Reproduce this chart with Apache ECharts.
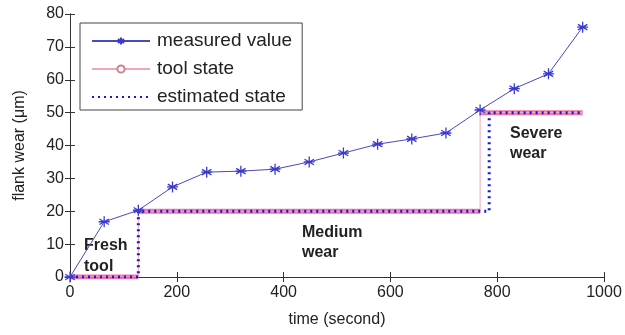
<!DOCTYPE html>
<html>
<head>
<meta charset="utf-8">
<script src="https://cdn.jsdelivr.net/npm/echarts@6/dist/echarts.min.js"></script>
<style>
  html, body { margin: 0; padding: 0; background: #fff; }
  #chart { width: 625px; height: 335px; }
</style>
</head>
<body>
<div id="chart"></div>
<script>
const timeTicks = [0, 200, 400, 600, 800, 1000];
const wearTicks = [0, 10, 20, 30, 40, 50, 60, 70, 80];

const measuredTime = [0, 64, 128, 192, 256, 320, 384, 448, 512, 576, 640, 704, 768, 832, 896, 960];
const measuredWear = [0, 16.8, 20.3, 27.4, 31.9, 32.2, 32.8, 35, 37.7, 40.4, 42, 43.8, 50.8, 57.3, 61.8, 76];

// step points of the states (time, wear)
const toolStateSteps = [[0, 0], [128, 0], [128, 20], [768, 20], [768, 50], [960, 50]];
const estimatedSteps = [[0, 0], [128, 0], [128, 20], [785, 20], [785, 50], [960, 50]];

const font = "'Liberation Sans', Arial, sans-serif";
const asterisk = "path://M5,0L5,10M0.7,2.5L9.3,7.5M0.7,7.5L9.3,2.5M0,5L10,5";

// thick band: only the flat parts of the tool state
const band = [];
toolStateSteps.forEach((p, i) => {
  if (i > 0 && p[0] === toolStateSteps[i - 1][0]) band.push([p[0], '-']);
  band.push(p);
});

const tickLabel = { fontFamily: font, fontSize: 16, color: '#222' };

const chart = echarts.init(document.getElementById('chart'));
chart.setOption({
  animation: false,
  grid: { left: 70, right: 21, top: 14, bottom: 58 },
  legend: {
    left: 80, top: 23, orient: 'vertical',
    backgroundColor: '#fff', borderColor: '#444', borderWidth: 1, borderRadius: 0,
    padding: [7, 10, 2, 11], itemGap: 6, itemWidth: 58, itemHeight: 9,
    textStyle: { fontFamily: font, fontSize: 19, lineHeight: 22, color: '#222', padding: [0, 0, 0, 2] },
    data: [
      { name: 'measured value' },
      { name: 'tool state' },
      { name: 'estimated state', itemStyle: { opacity: 0 } }
    ]
  },
  xAxis: [{
    type: 'value', min: 0, max: 1000, interval: 200,
    name: 'time (second)', nameLocation: 'middle', nameGap: 35,
    nameTextStyle: tickLabel,
    axisLine: { lineStyle: { color: '#333' } },
    axisTick: { inside: true, length: 5, lineStyle: { color: '#333' } },
    axisLabel: Object.assign({ margin: 8, formatter: v => String(v) }, tickLabel),
    splitLine: { show: false }
  }, {
    type: 'value', position: 'top', min: 0, max: 1000, interval: 200,
    axisLine: { show: true, lineStyle: { color: '#333' } },
    axisTick: { inside: true, length: 5, lineStyle: { color: '#333' } },
    axisLabel: { show: false }, splitLine: { show: false }
  }],
  yAxis: [{
    type: 'value', min: 0, max: 80, interval: 10,
    name: 'flank wear (\u03bcm)', nameLocation: 'middle', nameGap: 42,
    nameTextStyle: tickLabel,
    axisLine: { show: true, lineStyle: { color: '#333' } },
    axisTick: { show: true, inside: true, length: 5, lineStyle: { color: '#333' } },
    axisLabel: Object.assign({ margin: 6 }, tickLabel),
    splitLine: { show: false }
  }, {
    type: 'value', position: 'right', min: 0, max: 80, interval: 10,
    axisLine: { show: true, lineStyle: { color: '#333' } },
    axisTick: { show: true, inside: true, length: 5, lineStyle: { color: '#333' } },
    axisLabel: { show: false }, splitLine: { show: false }
  }],
  series: [{
    name: 'band', type: 'line', data: band, symbol: 'none', connectNulls: false,
    lineStyle: { color: '#ec5f9e', width: 5, opacity: 0.85 }, z: 1, silent: true
  }, {
    name: 'tool state', type: 'line', data: toolStateSteps,
    symbol: 'emptyCircle', symbolSize: 5, showSymbol: false,
    itemStyle: { color: '#d08090', borderWidth: 1 },
    lineStyle: { color: '#f0a8b8', width: 1 }, z: 2
  }, {
    name: 'estimated state', type: 'line', data: estimatedSteps, symbol: 'none',
    itemStyle: { color: '#1a1acc' },
    lineStyle: { color: '#1a1acc', width: 3, type: [2, 4] }, z: 3
  }, {
    name: 'measured value', type: 'line',
    data: measuredTime.map((t, i) => [t, measuredWear[i]]),
    symbol: asterisk, symbolSize: 11,
    itemStyle: { color: 'rgba(0,0,0,0)', borderColor: '#3a3ad0', borderWidth: 1.3 },
    lineStyle: { color: '#4a4ab8', width: 1 }, z: 4
  }],
  graphic: [
    { type: 'text', left: 84, top: 235, style: { text: 'Fresh\ntool', fontFamily: font, fontWeight: 'bold', fontSize: 16, lineHeight: 21, fill: '#222' } },
    { type: 'text', left: 302, top: 223, style: { text: 'Medium\nwear', fontFamily: font, fontWeight: 'bold', fontSize: 16, lineHeight: 20, fill: '#222' } },
    { type: 'text', left: 510, top: 124, style: { text: 'Severe\nwear', fontFamily: font, fontWeight: 'bold', fontSize: 16, lineHeight: 20, fill: '#222' } }
  ]
});
</script>
</body>
</html>
